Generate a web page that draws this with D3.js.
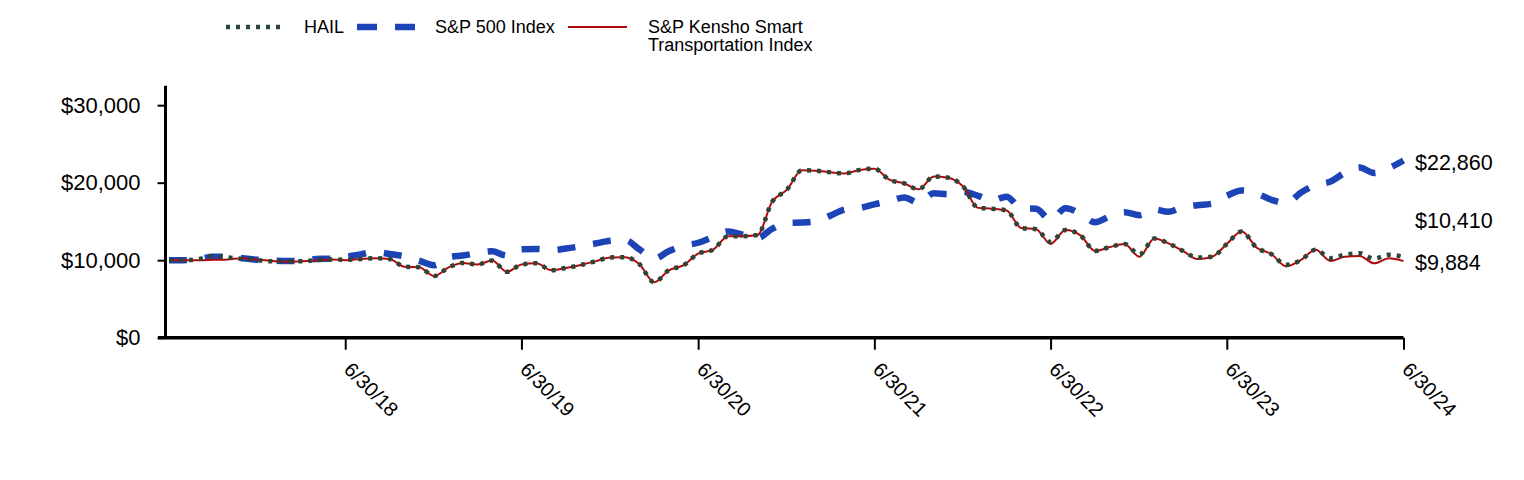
<!DOCTYPE html>
<html>
<head>
<meta charset="utf-8">
<script src="https://cdn.jsdelivr.net/npm/d3@7"></script>
<style>
  html, body { margin: 0; padding: 0; background: #fff; }
  svg text { font-family: Arial, "Liberation Sans", sans-serif; fill: #000; }
</style>
</head>
<body>
<svg id="chart" width="1524" height="480"></svg>
<script>
// ---- data (month-end values of a $10,000 investment) ----
const startMonth = [2017, 5];   // June 2017
const monthCount = 85;          // 6/30/17 .. 6/30/24

const hail = [
  10000, 10000, 10150, 10550, 10350, 10150, 10000, 9850, 9850, 9850, 10000, 10100,
  10050, 10150, 10250, 10150, 9150, 9100, 7950, 9100, 9650, 9450, 9950, 8500,
  9450, 9600, 8700, 9000, 9380, 9850, 10350, 10380, 9500, 7150, 8700, 9350,
  10850, 11350, 13100, 13100, 13250, 17500, 19100, 21600, 21550, 21350, 21200, 21650,
  21800, 20400, 19900, 19150, 20800, 20650, 19500, 16750, 16650, 16400, 14150, 14000,
  12350, 13900, 13200, 11200, 11700, 12100, 10750, 12800, 12200, 11200, 10350, 10450,
  12100, 13700, 11600, 10800, 9400, 10000, 11350, 10250, 10700, 10900, 10200, 10700,
  10410
];

const sp500 = [
  10000, 10000, 10150, 10450, 10450, 10250, 10050, 9950, 9900, 9900, 10150, 10200,
  10400, 10750, 11050, 10800, 10500, 9950, 9350, 10370, 10600, 10900, 11150, 10600,
  11400, 11450, 11300, 11500, 11800, 12150, 12500, 12600, 11400, 10200, 11150, 11870,
  12250, 13000, 13700, 13300, 12850, 14050, 14800, 14850, 15000, 15750, 16550, 16750,
  17200, 17600, 18100, 17400, 18630, 18500, 18800, 18300, 17700, 18200, 16700, 16650,
  15200, 16700, 16000, 14900, 15650, 16200, 15800, 16550, 16250, 16850, 17100, 17300,
  18300, 19000, 18600, 17800, 17350, 18700, 19700, 20150, 21250, 21950, 21250, 21900,
  22860
];

const kensho = [
  10000, 10000, 10000, 10050, 10100, 10250, 10050, 9900, 9800, 9850, 9950, 10100,
  10000, 10150, 10250, 10150, 9150, 9100, 7950, 9100, 9650, 9450, 9950, 8500,
  9450, 9600, 8700, 9000, 9380, 9850, 10350, 10380, 9500, 7150, 8700, 9350,
  10850, 11350, 13100, 13100, 13250, 17500, 19100, 21600, 21550, 21350, 21200, 21650,
  21800, 20400, 19900, 19150, 20800, 20650, 19500, 16750, 16650, 16400, 14150, 14000,
  12100, 13900, 13200, 11200, 11700, 12100, 10450, 12800, 12200, 11200, 10150, 10450,
  12100, 13700, 11600, 10800, 9200, 10000, 11350, 9900, 10450, 10550, 9600, 10250,
  9884
];

const yTicks = [0, 10000, 20000, 30000];
const xTickLabels = ["6/30/18", "6/30/19", "6/30/20", "6/30/21", "6/30/22", "6/30/23", "6/30/24"];
const endLabels = ["$22,860", "$10,410", "$9,884"];
const legendNames = ["HAIL", "S&P 500 Index", "S&P Kensho Smart", "Transportation Index"];

// ---- derived ----
const dates = d3.range(monthCount).map(i => new Date(startMonth[0], startMonth[1] + i + 1, 0));
const xTickDates = xTickLabels.map(s => {
  const [m, d, y] = s.split("/").map(Number);
  return new Date(2000 + y, m - 1, d);
});

const svg = d3.select("#chart");

const x = d3.scaleTime()
  .domain([new Date(2017, 5, 30), new Date(2024, 5, 30)])
  .range([169, 1403.5]);
const y = d3.scaleLinear().domain([0, 32500]).range([337.7, 85.8]);

// ---- axes ----
const yAxis = svg.append("g").attr("transform", "translate(165.5,0)")
  .call(d3.axisLeft(y).tickValues(yTicks).tickSize(8).tickPadding(6)
    .tickFormat(d => "$" + d3.format(",")(d)));
yAxis.select(".domain").attr("d", `M0,${y.range()[1]}V${y(0)}`).attr("stroke", "#000").attr("stroke-width", 3);
yAxis.selectAll(".tick line").attr("stroke", "#000").attr("stroke-width", 2);
yAxis.selectAll(".tick text").style("font-size", "22px").attr("x", -25);

const xAxis = svg.append("g").attr("transform", `translate(0,${y(0)})`)
  .call(d3.axisBottom(x).tickValues(xTickDates).tickSize(12).tickFormat((d, i) => xTickLabels[i]));
xAxis.select(".domain").attr("d", `M158,0H${x.range()[1]}`).attr("stroke", "#000").attr("stroke-width", 3.5);
xAxis.selectAll(".tick line").attr("stroke", "#000").attr("stroke-width", 2);
xAxis.selectAll(".tick text")
  .style("font-size", "20px")
  .attr("text-anchor", "start")
  .attr("dy", null)
  .attr("y", 0)
  .attr("transform", "translate(-3,33) rotate(45)");

// ---- lines ----
const line = vals => d3.line()
  .x((d, i) => x(dates[i]))
  .y(d => y(d))
  .curve(d3.curveMonotoneX)(vals);

svg.append("path").attr("d", line(sp500))
  .attr("fill", "none").attr("stroke", "#1c44b6").attr("stroke-width", 6.5)
  .attr("stroke-dasharray", "18,18");
svg.append("path").attr("d", line(kensho))
  .attr("fill", "none").attr("stroke", "#b00a0a").attr("stroke-width", 2);
svg.append("path").attr("d", line(hail))
  .attr("fill", "none").attr("stroke", "#2a4638").attr("stroke-width", 4.5)
  .attr("stroke-dasharray", "4,6");

// ---- end labels ----
const endY = [162, 220, 262];
svg.selectAll(".endlbl").data(endLabels).enter().append("text")
  .attr("class", "endlbl")
  .attr("x", 1415).attr("y", (d, i) => endY[i])
  .attr("dy", "0.35em")
  .style("font-size", "21.5px")
  .text(d => d);

// ---- legend ----
const lg = svg.append("g");
lg.append("line").attr("x1", 226).attr("x2", 282).attr("y1", 27).attr("y2", 27)
  .attr("stroke", "#2a4638").attr("stroke-width", 4.5).attr("stroke-dasharray", "4,6");
lg.append("text").attr("x", 304).attr("y", 27).attr("dy", "0.35em").style("font-size", "18px").text(legendNames[0]);
lg.append("line").attr("x1", 357).attr("x2", 415).attr("y1", 27).attr("y2", 27)
  .attr("stroke", "#1c44b6").attr("stroke-width", 6.5).attr("stroke-dasharray", "20,18");
lg.append("text").attr("x", 435).attr("y", 27).attr("dy", "0.35em").style("font-size", "18px").text(legendNames[1]);
lg.append("line").attr("x1", 568).attr("x2", 627).attr("y1", 27).attr("y2", 27)
  .attr("stroke", "#b00a0a").attr("stroke-width", 2);
lg.append("text").attr("x", 648).attr("y", 27).attr("dy", "0.35em").style("font-size", "18px").text(legendNames[2]);
lg.append("text").attr("x", 648).attr("y", 45).attr("dy", "0.35em").style("font-size", "18px").text(legendNames[3]);
</script>
</body>
</html>
